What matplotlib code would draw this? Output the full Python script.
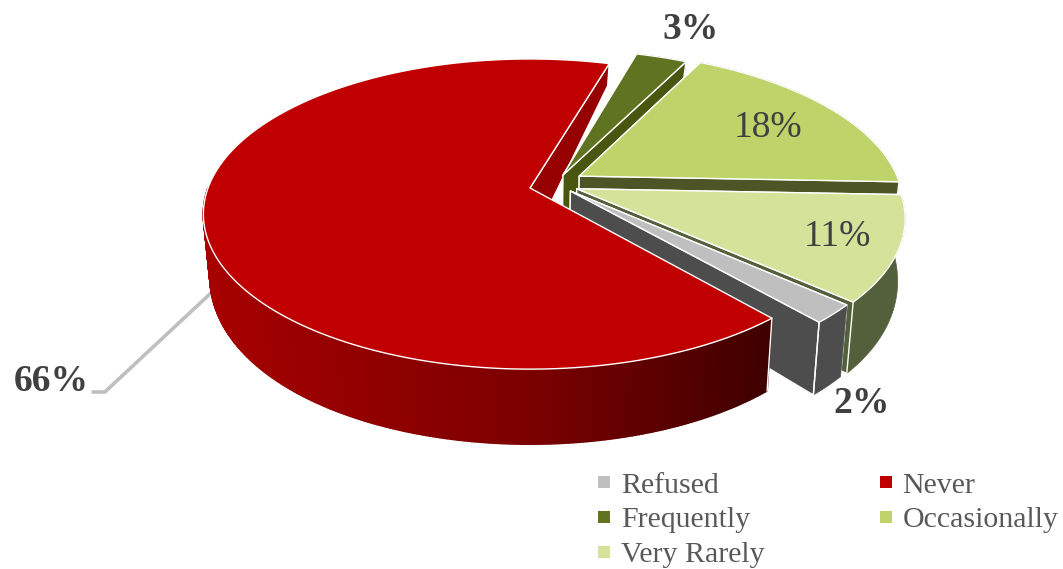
import numpy as np
import matplotlib
matplotlib.use("Agg")
import matplotlib.pyplot as plt
from matplotlib.patches import Polygon
from matplotlib.lines import Line2D
from matplotlib.collections import PolyCollection
from matplotlib.colors import to_rgb

# ---- data ----
categories = ["Refused", "Never", "Frequently", "Occasionally", "Very Rarely"]
values = [2, 66, 3, 18, 11]
labels = ["2%", "66%", "3%", "18%", "11%"]
top_colors = ["#bfbfbf", "#c00000", "#5f7320", "#bfd36b", "#d5e29a"]
wall_colors = ["#4d4d4d", "#960000", "#48560f", "#4d5526", "#54603c"]
explode_u = [0.125, 0.0, 0.104, 0.155, 0.145]
explode_v = [-0.02, 0.0, 0.0875, 0.08, -0.005]
first_angle = 131.8
label_xy = [(862, 403), (51, 381), (691, 29), (768, 128), (837, 237)]
label_bold = [True, True, True, False, False]

# ---- 3-D pie projection ----
CX, CY = 530, 188
A, B, K = 322.0, 150.7, 0.168


def project(u, v, z=0):
    u, v = np.asarray(u, float), np.asarray(v, float)
    w = 1 + K * v
    x, y = A * u / w, B * v / w
    if z:
        x = x * 0.98
        y = y - (57.5 - 27.4 * v - 9.9 * v * v)
    return CX + x, CY - y


def rim(i, t):
    t = np.radians(t)
    return explode_u[i] + np.sin(t), explode_v[i] + np.cos(t)


def pts(u, v, z=0):
    x, y = project(u, v, z)
    return np.column_stack([np.atleast_1d(x), np.atleast_1d(y)])


fig = plt.figure(figsize=(10.63, 5.69), dpi=100)
ax = fig.add_axes([0, 0, 1, 1])
ax.set_xlim(0, 1063)
ax.set_ylim(569, 0)
ax.axis("off")

edges = np.cumsum([0] + values) * 3.6 + first_angle
WHITE = dict(edgecolor="white", linewidth=1.0, joinstyle="round")


def face(i, t):
    """Flat cut face from the centre to the rim at angle t."""
    u, v = rim(i, t)
    u0, v0 = explode_u[i], explode_v[i]
    return np.vstack([pts(u0, v0), pts(u, v), pts(u, v, 1), pts(u0, v0, 1)])


def draw_top(i, zorder):
    t = np.linspace(edges[i], edges[i + 1], 160)
    u, v = rim(i, t)
    p = np.vstack([pts(explode_u[i], explode_v[i]), pts(u, v)])
    ax.add_patch(Polygon(p, closed=True, facecolor=top_colors[i], zorder=zorder, **WHITE))


def draw_outer(i, zorder):
    t = np.linspace(edges[i], edges[i + 1], 80)
    u, v = rim(i, t)
    p = np.vstack([pts(u, v), pts(u, v, 1)[::-1]])
    ax.add_patch(Polygon(p, closed=True, facecolor=wall_colors[i], edgecolor=wall_colors[i],
                         linewidth=0.5, zorder=zorder))


# leader under everything
ax.annotate("", xy=(211, 293), xytext=(93, 392), zorder=1,
            arrowprops=dict(arrowstyle="-", color="#bfbfbf", lw=2.6, shrinkA=0, shrinkB=0,
                            connectionstyle="angle,angleA=0,angleB=43,rad=0"))

# red cut face
ax.add_patch(Polygon(face(1, edges[2]), closed=True, facecolor=wall_colors[1], zorder=2, **WHITE))

z = 3
for i in [2, 3, 4, 0]:
    ax.add_patch(Polygon(face(i, edges[i]), closed=True, facecolor=wall_colors[i], zorder=z, **WHITE))
    draw_outer(i, z + 0.2)
    ax.add_patch(Polygon(face(i, edges[i + 1]), closed=True, facecolor=wall_colors[i], zorder=z + 0.4, **WHITE))
    draw_top(i, z + 1)
    z += 2
# corner edge of the refused slice
p = pts(*rim(0, edges[1]))
q = pts(*rim(0, edges[1]), 1)
ax.plot([p[0, 0], q[0, 0]], [p[0, 1], q[0, 1]], color="white", lw=1.0, zorder=z)
z += 1

# red outer wall with horizontal shade, then top
t = np.linspace(edges[1], edges[1] + 131, 240)
polys, cols = [], []
stops_x = np.array([205, 300, 530, 770])
stops_c = np.array([to_rgb("#a80000"), to_rgb("#9a0000"), to_rgb("#7c0000"), to_rgb("#3e0000")])
for a, b in zip(t[:-1], t[1:]):
    ua, va = rim(1, a)
    ub, vb = rim(1, b)
    poly = np.vstack([pts(ua, va), pts(ub, vb), pts(ub, vb, 1), pts(ua, va, 1)])
    polys.append(poly)
    xm = poly[:, 0].mean()
    cols.append([np.interp(xm, stops_x, stops_c[:, c]) for c in range(3)])
ax.add_collection(PolyCollection(polys, facecolors=cols, edgecolors=cols, linewidths=1.2, zorder=z))
p = pts(*rim(1, edges[1]))
q = pts(*rim(1, edges[1]), 1)
ax.plot([p[0, 0], q[0, 0]], [p[0, 1], q[0, 1]], color="white", lw=1.0, zorder=z + 1)
draw_top(1, z + 2)
z += 3

# labels
SERIF = ["Liberation Serif", "DejaVu Serif"]
for s, (x, y), bold in zip(labels, label_xy, label_bold):
    ax.text(x, y, s, ha="center", va="center", fontsize=27, family=SERIF, color="#404040",
            fontweight="bold" if bold else "normal", zorder=z)

# legend
handles = [Line2D([], [], linestyle="none", marker="s", markersize=8.5, markeredgewidth=0,
                  color=top_colors[i], label=categories[i]) for i in [0, 2, 4, 1, 3]]
leg = ax.legend(handles=handles, ncol=2, loc="upper left", bbox_to_anchor=(589, 472),
                bbox_transform=ax.transData, frameon=False, prop=dict(family=SERIF, size=21.5),
                labelcolor="#595959", handlelength=1.0, handletextpad=0.07, columnspacing=3.55,
                labelspacing=0.257, borderpad=0, borderaxespad=0)

fig.savefig("out.png", dpi=100, facecolor="white")
